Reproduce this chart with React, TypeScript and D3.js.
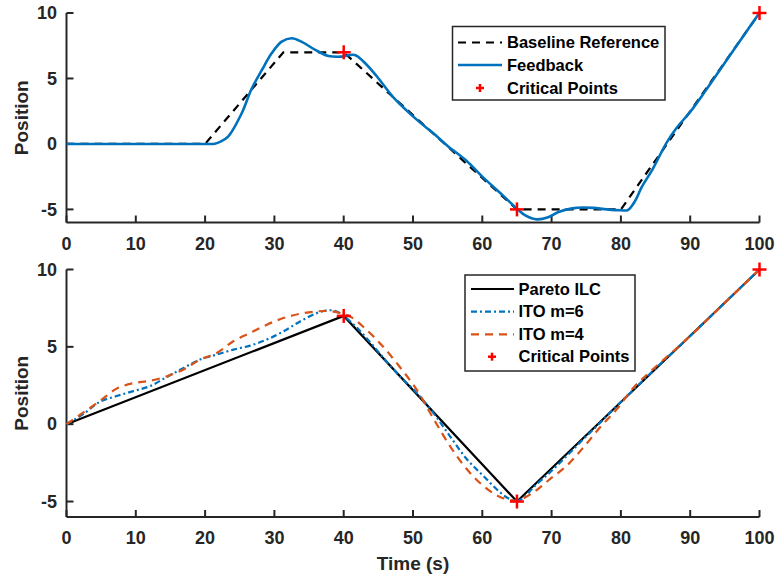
import React from "react";
import * as d3 from "d3";

// ---------- data ----------
const xTicks = [0, 10, 20, 30, 40, 50, 60, 70, 80, 90, 100];
const yTicks = [-5, 0, 5, 10];

// top panel
const baselineT = [0, 20, 31.3, 40, 65, 80, 100];
const baselineV = [0, 0, 7, 7, -5, -5, 10];

const feedbackT = [0, 20, 21.4, 22.3, 23.35, 25.3, 26.7, 28.2, 29.6, 31.05, 32.5, 33.9, 35.9, 37.8, 39.7, 41.6, 43.1, 44.8, 47.1, 50.7, 52.9, 55, 57.75, 60, 63, 65, 66.2, 67.9, 69.5, 71, 73, 74.5, 76, 78, 80, 81, 82, 83, 84.5, 86.6, 88, 90, 92, 95, 98, 100];
const feedbackV = [0, 0, 0.02, 0.2, 0.58, 2.36, 4.2, 5.65, 6.92, 7.81, 8.07, 7.81, 7.18, 6.72, 6.67, 6.8, 6.16, 5.15, 3.6, 1.78, 0.83, -0.15, -1.3, -2.5, -3.95, -4.95, -5.45, -5.76, -5.6, -5.2, -4.92, -4.85, -4.88, -5.0, -5.07, -5.05, -4.4, -3.3, -2.0, 0.1, 1.2, 2.45, 3.9, 6.2, 8.5, 10];

const critT = [40, 65, 100];
const critV = [7, -5, 10];

// bottom panel
const paretoT = [0, 40, 65, 100];
const paretoV = [0, 7, -5, 10];

const ito6T = [0, 2.4, 4.83, 7.24, 9.65, 12.05, 14.46, 16.9, 19.26, 21.7, 24.07, 26.5, 28.9, 31.3, 33.7, 36.1, 37.5, 38.7, 40, 42, 44, 46, 48.1, 50.5, 52.9, 55.3, 57.75, 60.1, 62.55, 64, 65, 66, 67.4, 69.8, 72.2, 74.6, 77, 79.4, 82, 85, 90, 95, 100];
const ito6V = [0, 0.65, 1.45, 1.82, 2.14, 2.46, 3.05, 3.64, 4.18, 4.5, 4.82, 5.08, 5.47, 6.0, 6.64, 7.18, 7.35, 7.33, 7.0, 6.2, 5.2, 4.15, 3.1, 2.04, 0.75, -0.75, -2.25, -3.32, -4.4, -4.85, -4.95, -4.75, -4.07, -3.1, -2.04, -0.96, 0.1, 1.18, 2.3, 3.6, 5.7, 7.85, 10];

const ito4T = [0, 2.4, 4.83, 7.24, 9.65, 12, 14.5, 16.9, 19.3, 21.7, 24.07, 26.5, 28.9, 31.3, 33.7, 36.1, 38.2, 40.9, 43.3, 45.7, 48.1, 50.5, 52.9, 55.3, 57.75, 60.1, 62.55, 65, 67.4, 69.8, 72.2, 74.6, 77, 79.4, 81.8, 84, 90, 95, 100];
const ito4V = [0, 0.75, 1.5, 2.3, 2.65, 2.8, 3.1, 3.54, 4.18, 4.61, 5.36, 5.9, 6.43, 6.86, 7.14, 7.29, 7.3, 6.96, 6.1, 5.0, 3.7, 2.25, 0.4, -1.39, -2.9, -3.97, -4.7, -4.93, -4.4, -3.54, -2.68, -1.5, -0.2, 0.96, 2.36, 3.3, 5.7, 7.85, 10];

const topLegend = ["Baseline Reference", "Feedback", "Critical Points"];
const bottomLegend = ["Pareto ILC", "ITO m=6", "ITO m=4", "Critical Points"];

// ---------- styles ----------
const AXIS = "#262626";
const BLUE = "#0072BD";
const ORANGE = "#D95319";
const RED = "#FF0000";
const FONT = "'Liberation Sans', Arial, Helvetica, sans-serif";

const W = 778;
const H = 580;

const x = d3.scaleLinear().domain([0, 100]).range([66.5, 759.5]);
const yTop = d3.scaleLinear().domain([-6, 10]).range([222.5, 13]);
const yBot = d3.scaleLinear().domain([-6, 10]).range([517, 269.5]);

const zip = (t: number[], v: number[]) => t.map((tt, i) => [tt, v[i]] as [number, number]);

function makeLine(y: d3.ScaleLinear<number, number>, smooth: boolean) {
  const l = d3
    .line<[number, number]>()
    .x((d) => x(d[0]))
    .y((d) => y(d[1]));
  return smooth ? l.curve(d3.curveCatmullRom.alpha(0.5)) : l;
}

function Plus({ cx, cy, r, w }: { cx: number; cy: number; r: number; w: number }) {
  return (
    <g stroke={RED} strokeWidth={w}>
      <line x1={cx - r} x2={cx + r} y1={cy} y2={cy} />
      <line x1={cx} x2={cx} y1={cy - r} y2={cy + r} />
    </g>
  );
}

function Axes({ y, labelY }: { y: d3.ScaleLinear<number, number>; labelY: number }) {
  const [y0, y1] = y.range();
  const x0 = x.range()[0];
  const x1 = x.range()[1];
  return (
    <g>
      <line x1={x0} x2={x0} y1={y1} y2={y0} stroke={AXIS} strokeWidth={2} />
      <line x1={x0} x2={x1} y1={y0} y2={y0} stroke={AXIS} strokeWidth={2} />
      {xTicks.map((t) => (
        <g key={"x" + t}>
          <line x1={x(t)} x2={x(t)} y1={y0} y2={y0 - 7} stroke={AXIS} strokeWidth={2} />
          <text x={x(t)} y={y0 + 27} textAnchor="middle" fontSize={18} fontWeight="bold" fill={AXIS} fontFamily={FONT}>
            {t}
          </text>
        </g>
      ))}
      {yTicks.map((v) => (
        <g key={"y" + v}>
          <line x1={x0} x2={x0 + 7} y1={y(v)} y2={y(v)} stroke={AXIS} strokeWidth={2} />
          <text x={57} y={y(v)} dy="0.35em" textAnchor="end" fontSize={18} fontWeight="bold" fill={AXIS} fontFamily={FONT}>
            {v}
          </text>
        </g>
      ))}
      <text
        transform={`translate(28,${labelY}) rotate(-90)`}
        textAnchor="middle"
        fontSize={19}
        fontWeight="bold"
        fill={AXIS}
        fontFamily={FONT}
      >
        Position
      </text>
    </g>
  );
}

export default function App() {
  const topBase = makeLine(yTop, false)(zip(baselineT, baselineV)) || "";
  const topFb = makeLine(yTop, true)(zip(feedbackT, feedbackV)) || "";
  const botPareto = makeLine(yBot, false)(zip(paretoT, paretoV)) || "";
  const bot6 = makeLine(yBot, true)(zip(ito6T, ito6V)) || "";
  const bot4 = makeLine(yBot, true)(zip(ito4T, ito4V)) || "";

  const topLegY = [42.5, 65, 88];
  const botLegY = [289, 311.7, 334.3, 356.7];

  return (
    <svg width={W} height={H} style={{ position: "absolute", left: 0, top: 0, background: "white" }}>
      <rect x={0} y={0} width={W} height={H} fill="white" />
      {/* top panel */}
      <Axes y={yTop} labelY={(13 + 222.5) / 2} />
      <path d={topBase} fill="none" stroke="#000" strokeWidth={2.2} strokeDasharray="8,6" />
      <path d={topFb} fill="none" stroke={BLUE} strokeWidth={2.6} />
      {critT.map((t, i) => (
        <Plus key={"ct" + i} cx={x(t)} cy={yTop(critV[i])} r={7} w={2.5} />
      ))}
      {/* top legend */}
      <g>
        <rect x={452.5} y={26.5} width={212.5} height={73.5} fill="white" stroke={AXIS} strokeWidth={1.5} />
        <line x1={458} x2={502} y1={topLegY[0]} y2={topLegY[0]} stroke="#000" strokeWidth={2.2} strokeDasharray="8,6" />
        <line x1={458} x2={502} y1={topLegY[1]} y2={topLegY[1]} stroke={BLUE} strokeWidth={2.6} />
        <Plus cx={480} cy={topLegY[2]} r={4} w={2.5} />
        {topLegend.map((s, i) => (
          <text key={s} x={507} y={topLegY[i]} dy="0.35em" fontSize={16.5} fontWeight="bold" fill="#000" fontFamily={FONT}>
            {s}
          </text>
        ))}
      </g>

      {/* bottom panel */}
      <Axes y={yBot} labelY={(269.5 + 517) / 2} />
      <path d={botPareto} fill="none" stroke="#000" strokeWidth={2.2} />
      <path d={bot6} fill="none" stroke={BLUE} strokeWidth={2.2} strokeDasharray="6,3,2,3" />
      <path d={bot4} fill="none" stroke={ORANGE} strokeWidth={2.2} strokeDasharray="8,6" />
      {critT.map((t, i) => (
        <Plus key={"cb" + i} cx={x(t)} cy={yBot(critV[i])} r={7} w={2.5} />
      ))}
      <g>
        <rect x={465} y={275} width={170} height={96} fill="white" stroke={AXIS} strokeWidth={1.5} />
        <line x1={471} x2={514} y1={botLegY[0]} y2={botLegY[0]} stroke="#000" strokeWidth={2.2} />
        <line x1={471} x2={514} y1={botLegY[1]} y2={botLegY[1]} stroke={BLUE} strokeWidth={2.2} strokeDasharray="6,3,2,3" />
        <line x1={471} x2={514} y1={botLegY[2]} y2={botLegY[2]} stroke={ORANGE} strokeWidth={2.2} strokeDasharray="8,6" />
        <Plus cx={492} cy={botLegY[3]} r={4} w={2.5} />
        {bottomLegend.map((s, i) => (
          <text key={s} x={518.5} y={botLegY[i]} dy="0.35em" fontSize={16.5} fontWeight="bold" fill="#000" fontFamily={FONT}>
            {s}
          </text>
        ))}
      </g>

      <text x={413} y={570} textAnchor="middle" fontSize={19} fontWeight="bold" fill={AXIS} fontFamily={FONT}>
        Time (s)
      </text>
    </svg>
  );
}
